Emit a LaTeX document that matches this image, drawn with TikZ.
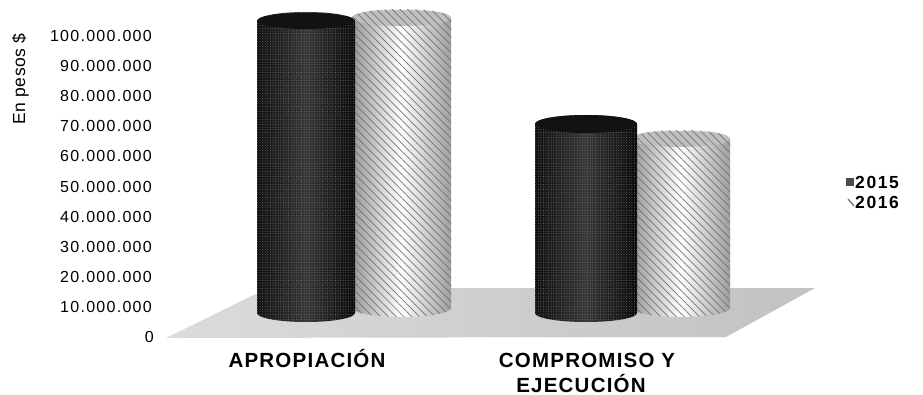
\documentclass[tikz,border=0pt]{standalone}
\usepackage{fontspec}
\setmainfont{Liberation Sans}
\usetikzlibrary{patterns.meta}
\newcommand\cylbody[6]{%
  \pgfmathsetmacro\cylr{(#2-#1)/2}%
  \path[#6] (#1,#3) -- (#1,#4) arc[start angle=180,end angle=360,x radius=\cylr pt,y radius=#5pt]
     -- (#2,#3) arc[start angle=0,end angle=180,x radius=\cylr pt,y radius=#5pt] -- cycle;}
\newcommand\cyltop[5]{%
  \pgfmathsetmacro\cylr{(#2-#1)/2}\pgfmathsetmacro\cylc{(#1+#2)/2}%
  \path[#5] (\cylc,#3) ellipse[x radius=\cylr pt,y radius=#4pt];}
\begin{document}
\begin{tikzpicture}[x=1pt,y=-1pt,
  tick/.style={anchor=east,inner sep=0pt,font=\fontsize{16}{18}\selectfont\addfontfeature{LetterSpace=8}},
  cat/.style={anchor=base,inner sep=0pt,font=\fontsize{20.5}{22}\selectfont\bfseries\addfontfeature{LetterSpace=6}},
  leg/.style={anchor=west,inner sep=0pt,font=\fontsize{17.5}{19}\selectfont\bfseries\addfontfeature{LetterSpace=9}},
  darkshade/.style={left color=black!93,right color=black!96,middle color=black!78},
  darkdots/.style={pattern={Dots[distance=2.6pt,radius=0.45pt]},pattern color=black!50},
  lightshade/.style={left color=black!40,right color=black!38,middle color=white},
  lighthatch/.style={pattern={Lines[angle=-45,distance=5.5pt,line width=0.7pt]},pattern color=black!55},
  floorfill/.style={left color=black!14,right color=black!24}]
\useasboundingbox[fill=white] (0,0) rectangle (923,395);
% axis title
\node[rotate=90,anchor=base,inner sep=0pt,font=\fontsize{17.5}{19}\selectfont\addfontfeature{LetterSpace=3}] (ytitle) at (25,79) {En pesos \$};
% tick labels
\foreach \v/\t in {10/100.000.000,9/90.000.000,8/80.000.000,7/70.000.000,6/60.000.000,5/50.000.000,4/40.000.000,3/30.000.000,2/20.000.000,1/10.000.000}{
  \node[tick] (t\v) at (152,{36+30.1*(10-\v)}) {\t};
}
\node[tick] (t0) at (154,337) {0};
% floor
\shade[floorfill] (166,338) -- (268,288) -- (815,288) -- (726,337) -- cycle;
% APROPIACION
\cylbody{352}{451}{18}{308}{9}{lightshade}
\cylbody{352}{451}{18}{308}{9}{lighthatch}
\cyltop{352}{451}{18}{8}{fill=black!25}
\cyltop{352}{451}{18}{8}{lighthatch}
\cylbody{257}{355}{21}{313}{9}{darkshade}
\cylbody{257}{355}{21}{313}{9}{darkdots}
\cyltop{257}{355}{21}{8}{fill=black!93}
% COMPROMISO
\cylbody{632}{730}{139}{308}{9}{lightshade}
\cylbody{632}{730}{139}{308}{9}{lighthatch}
\cyltop{632}{730}{139}{8}{fill=black!25}
\cyltop{632}{730}{139}{8}{lighthatch}
\cylbody{535}{637}{124}{313}{9}{darkshade}
\cylbody{535}{637}{124}{313}{9}{darkdots}
\cyltop{535}{637}{124}{9}{fill=black!93}
% category labels
\node[cat] (c1) at (307,367) {APROPIACIÓN};
\node[cat] (c2a) at (587,367) {COMPROMISO Y};
\node[cat] (c2b) at (581,392) {EJECUCIÓN};
% legend
\node[fill=black!70,minimum size=8pt,inner sep=0pt] (m15) at (850,182) {};
\node[leg] (l15) at (855,182) {2015};
\coordinate (m16a) at (848,199);
\coordinate (m16b) at (854,206);
\draw[black!55,line width=1.3pt] (m16a) -- (m16b);
\node[leg] (l16) at (855,202) {2016};
\end{tikzpicture}
\end{document}
